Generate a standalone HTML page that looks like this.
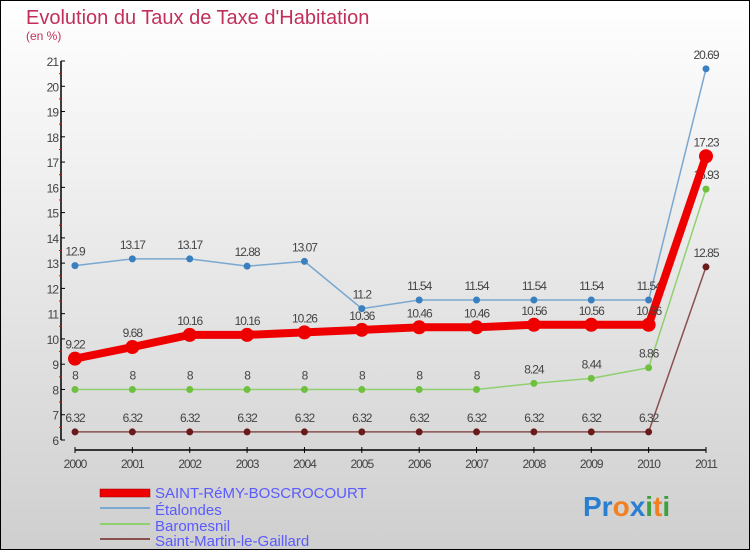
<!DOCTYPE html>
<html><head><meta charset="utf-8"><style>
body{margin:0}
#c{width:750px;height:550px;position:relative;overflow:hidden}
text{font-family:"Liberation Sans",sans-serif}
</style></head><body>
<div id="c">
<svg id="s" width="750" height="550" xmlns="http://www.w3.org/2000/svg">
<defs><linearGradient id="bg" x1="0" y1="0" x2="0" y2="1"><stop offset="0" stop-color="#ffffff"/><stop offset="1" stop-color="#cfcfcf"/></linearGradient></defs>
<rect x="0.5" y="0.5" width="749" height="549" fill="url(#bg)" stroke="#000"/>
<text x="26" y="24" font-size="20" fill="#c0305a">Evolution du Taux de Taxe d'Habitation</text>
<text x="26" y="40" font-size="12" fill="#c0305a">(en %)</text>
<g id="axes"></g><g id="series"></g>
<g>
<rect x="100" y="489" width="50" height="8" fill="#e00" stroke="#900" stroke-width="0.5"/>
<text x="155" y="498" font-size="15" fill="#5a5aff">SAINT-RéMY-BOSCROCOURT</text>
<line x1="100" y1="508" x2="150" y2="508" stroke="#7aa8d0" stroke-width="2"/>
<text x="155" y="515" font-size="15" fill="#5a5aff">Étalondes</text>
<line x1="100" y1="524" x2="150" y2="524" stroke="#90d070" stroke-width="2"/>
<text x="155" y="531" font-size="15" fill="#5a5aff">Baromesnil</text>
<line x1="100" y1="539" x2="150" y2="539" stroke="#8a5050" stroke-width="2"/>
<text x="155" y="546" font-size="15" fill="#5a5aff">Saint-Martin-le-Gaillard</text>
</g>
<text x="583" y="516" font-size="28" font-weight="bold"><tspan fill="#2a7fd0">Pr</tspan><tspan fill="#f08020">o</tspan><tspan fill="#2a7fd0">x</tspan><tspan fill="#40a040">i</tspan><tspan fill="#f08020">t</tspan><tspan fill="#40a040">i</tspan></text>
</svg></div>
<script>
const years=[2000,2001,2002,2003,2004,2005,2006,2007,2008,2009,2010,2011];
const yTicks=[6,7,8,9,10,11,12,13,14,15,16,17,18,19,20,21];
const saintRemy=[9.22,9.68,10.16,10.16,10.26,10.36,10.46,10.46,10.56,10.56,10.56,17.23];
const etalondes=[12.9,13.17,13.17,12.88,13.07,11.2,11.54,11.54,11.54,11.54,11.54,20.69];
const baromesnil=[8,8,8,8,8,8,8,8,8.24,8.44,8.86,15.93];
const saintMartin=[6.32,6.32,6.32,6.32,6.32,6.32,6.32,6.32,6.32,6.32,6.32,12.85];
const NS="http://www.w3.org/2000/svg";
const xS=i=>75+i*(706-75)/11;
const yS=v=>440-(v-6)*(440-61)/15;
function mk(t,a,p){const e=document.createElementNS(NS,t);for(const k in a)e.setAttribute(k,a[k]);p.appendChild(e);return e;}
const ax=document.getElementById('axes');
mk('line',{x1:61,y1:yS(21),x2:61,y2:yS(6),stroke:'#000','stroke-width':1.5},ax);
mk('line',{x1:75,y1:450,x2:706,y2:450,stroke:'#000','stroke-width':1.5},ax);
yTicks.forEach(v=>{
 mk('line',{x1:61,y1:yS(v),x2:65,y2:yS(v),stroke:'#000'},ax);
 if(v<21)mk('line',{x1:59,y1:yS(v+0.5),x2:62,y2:yS(v+0.5),stroke:'#e00'},ax);
 const t=mk('text',{x:58,y:yS(v)+5,'font-size':12,fill:'#444','text-anchor':'end','letter-spacing':'-1'},ax);
 
 
 t.textContent=v;
});
years.forEach((y,i)=>{
 mk('line',{x1:xS(i),y1:447,x2:xS(i),y2:453,stroke:'#000'},ax);
 const t=mk('text',{x:xS(i),y:468,'font-size':12,fill:'#444','text-anchor':'middle','letter-spacing':'-1'},ax);
 
 
 t.textContent=y;
});
const sg=document.getElementById('series');
function series(vals,name,col,dot,w,r){
 const g=mk('g',{},sg);
 
 
 mk('polyline',{points:vals.map((v,i)=>xS(i)+','+yS(v)).join(' '),fill:'none',stroke:col,'stroke-width':w,'stroke-linejoin':'round'},g);
 vals.forEach((v,i)=>{
  const c=mk('circle',{cx:xS(i),cy:yS(v),r:r,fill:dot},g);
  
  
  const t=mk('text',{x:xS(i),y:yS(v)-10,'font-size':12,fill:'#444','text-anchor':'middle','letter-spacing':'-1'},g);
  
  
  t.textContent=v;
 });
}
series(saintMartin,'saint-martin-series','#8a5050','#6a1a1a',1.5,3.5);
series(baromesnil,'baromesnil-series','#90d070','#70c040',1.5,3.5);
series(etalondes,'etalondes-series','#7aa8d0','#3a80c0',1.5,3.5);
series(saintRemy,'saint-remy-series','#ee0000','#ee0000',8,7);
</script>
</body></html>
